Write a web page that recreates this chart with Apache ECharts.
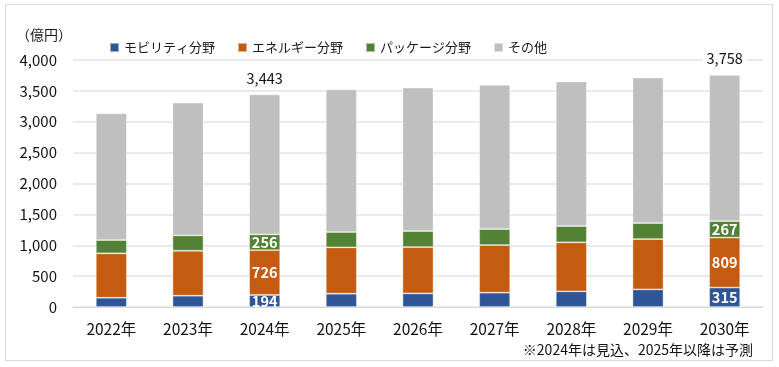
<!DOCTYPE html>
<html>
<head>
<meta charset="utf-8">
<script src="https://cdn.jsdelivr.net/npm/echarts@6/dist/echarts.min.js"></script>
<style>
html,body{margin:0;padding:0;background:#fff;}
#c{width:779px;height:367px;}
</style>
</head>
<body>
<div id="c"></div>
<script>
const categories = ['2022年','2023年','2024年','2025年','2026年','2027年','2028年','2029年','2030年'];
const mobility = [150, 183, 194, 215, 221, 232, 254, 286, 315];
const energy   = [719, 728, 726, 751, 750, 771, 793, 814, 809];
const packageV = [215, 249, 256, 248, 259, 259, 264, 259, 267];
const other    = [2051, 2150, 2267, 2309, 2325, 2335, 2341, 2357, 2367];
const labeledIdx = [2, 8];
const yTicks = [0, 500, 1000, 1500, 2000, 2500, 3000, 3500, 4000];

const FONT = '"Noto Sans CJK JP", "Noto Sans", sans-serif';
const totals = categories.map((_, i) => mobility[i] + energy[i] + packageV[i] + other[i]);
const fmt = v => String(v).replace(/\B(?=(\d{3})+(?!\d))/g, ',');

function segData(arr) {
  return arr.map((v, i) => labeledIdx.includes(i)
    ? { value: v, label: { show: true } }
    : v);
}
const segLabel = {
  show: false, position: 'inside', color: '#fff', fontWeight: 'bold',
  fontSize: 14.5, fontFamily: FONT, formatter: p => fmt(p.value)
};
const border = { borderColor: 'rgba(255,255,255,0.5)', borderWidth: 0.8 };

const chart = echarts.init(document.getElementById('c'), null, { renderer: 'canvas' });
chart.setOption({
  animation: false,
  textStyle: { fontFamily: FONT },
  grid: { left: 73, right: 16, top: 60, bottom: 60, containLabel: false },
  legend: {
    left: 104, top: 36, itemWidth: 9, itemHeight: 9, itemGap: 22,
    icon: 'rect',
    textStyle: { fontSize: 13, color: '#1a1a1a', fontFamily: FONT },
    data: ['モビリティ分野', 'エネルギー分野', 'パッケージ分野', 'その他']
  },
  xAxis: {
    type: 'category', data: categories,
    axisLine: { lineStyle: { color: '#D9D9D9', width: 1 } },
    axisTick: { show: false },
    axisLabel: { fontSize: 15.5, color: '#111', margin: 14, fontFamily: FONT }
  },
  yAxis: {
    type: 'value', min: 0, max: 4000, interval: 500,
    axisLine: { show: false }, axisTick: { show: false },
    splitLine: { lineStyle: { color: '#E3E3E3', width: 1.5 } },
    axisLabel: {
      fontSize: 15, color: '#111', margin: 16, fontFamily: FONT,
      formatter: v => yTicks.includes(v) ? fmt(v) : ''
    }
  },
  series: [
    { name: 'モビリティ分野', type: 'bar', stack: 't', barWidth: 31,
      itemStyle: Object.assign({ color: '#2F5597' }, border),
      label: segLabel, data: segData(mobility) },
    { name: 'エネルギー分野', type: 'bar', stack: 't',
      itemStyle: Object.assign({ color: '#C55A11' }, border),
      label: segLabel, data: segData(energy) },
    { name: 'パッケージ分野', type: 'bar', stack: 't',
      itemStyle: Object.assign({ color: '#548235' }, border),
      label: segLabel, data: segData(packageV) },
    { name: 'その他', type: 'bar', stack: 't',
      itemStyle: Object.assign({ color: '#BFBFBF' }, border),
      label: {
        show: false, position: 'top', distance: 9, color: '#111', fontSize: 14.5,
        fontFamily: FONT, backgroundColor: '#fff', padding: [0, 4],
        formatter: p => fmt(totals[p.dataIndex])
      },
      data: segData(other) }
  ],
  graphic: [
    { type: 'rect', shape: { x: 5.5, y: 4.5, width: 767, height: 356 },
      style: { fill: null, stroke: '#D9D9D9', lineWidth: 1 }, silent: true, z: -1 },
    { type: 'text', left: 16, top: 28,
      style: { text: '（億円）', font: '14px ' + FONT, fill: '#1a1a1a' } },
    { type: 'text', right: 26, top: 343,
      style: { text: '※2024年は見込、2025年以降は予測', font: '14px ' + FONT, fill: '#111' } }
  ]
});
</script>
</body>
</html>
